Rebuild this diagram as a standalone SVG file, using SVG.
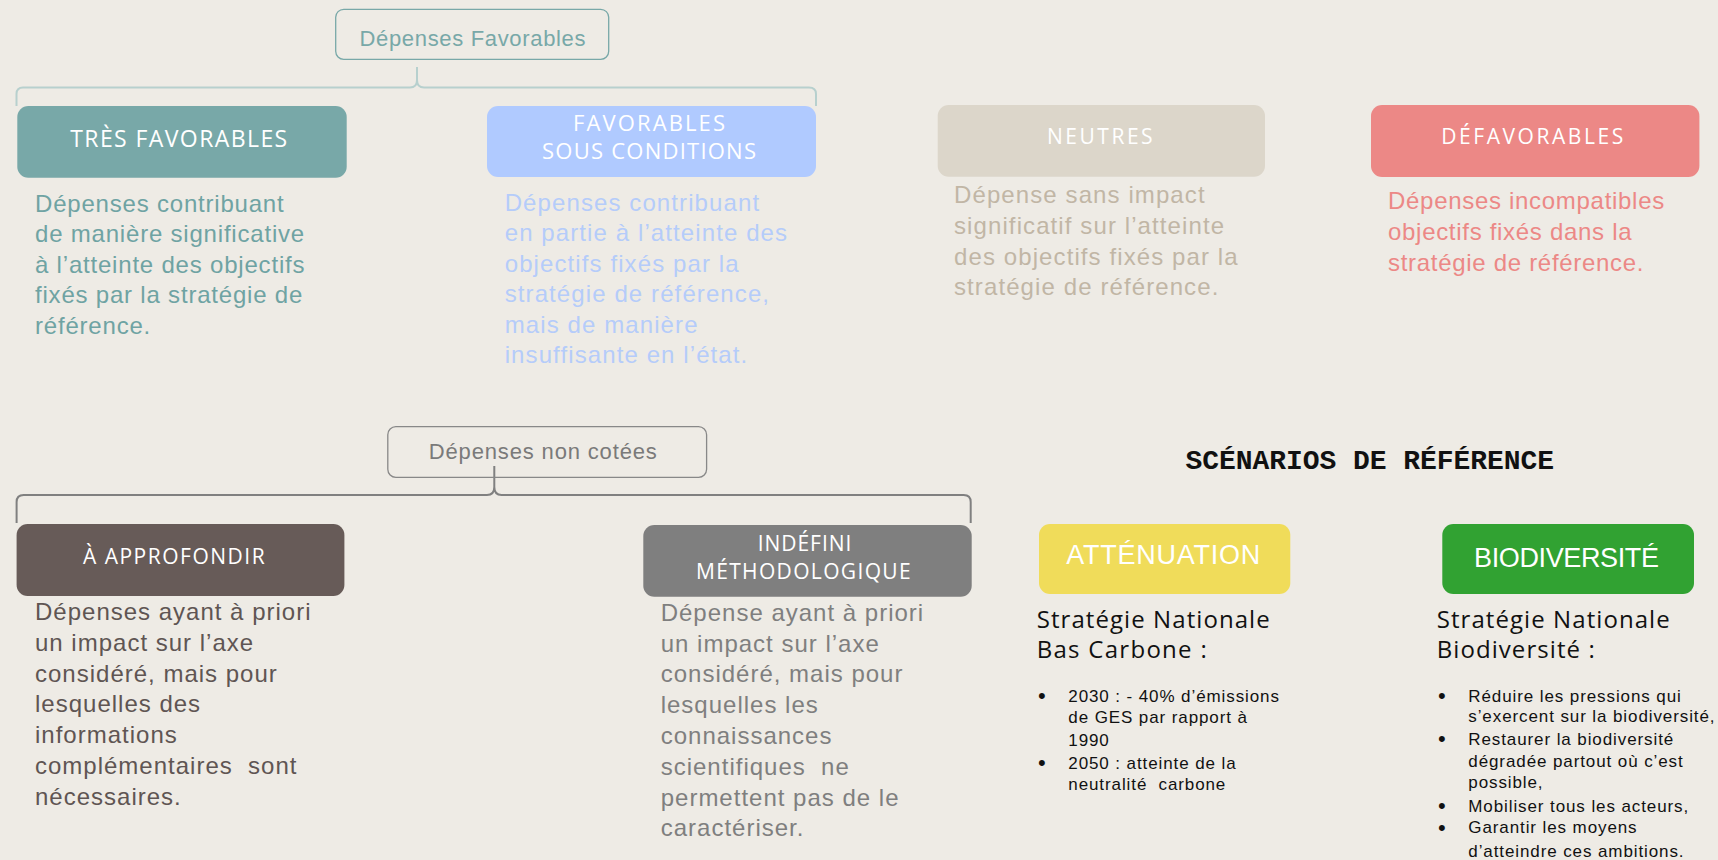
<svg xmlns="http://www.w3.org/2000/svg" width="1718" height="860" viewBox="0 0 1718 860">
<style>
.lbl{font-family:"Open Sans","Liberation Sans",sans-serif;fill:#ffffff;text-anchor:middle}
.desc{font-family:"Liberation Sans",Arial,sans-serif;font-size:24px}
.hdr{font-family:"Liberation Sans",Arial,sans-serif;font-size:22px;text-anchor:middle}
.scn{font-family:"Liberation Sans",Arial,sans-serif;font-size:27px;fill:#ffffff;text-anchor:middle}
.sn{font-family:"Open Sans","Liberation Sans",sans-serif;font-size:24px;fill:#111111}
.bl{font-family:"Liberation Sans",Arial,sans-serif;font-size:17px;fill:#111111;letter-spacing:0.9px}
.dot{font-size:22px;letter-spacing:0}
.pre{white-space:pre}
.brace{fill:none;stroke-width:2}
</style>
<rect width="1718" height="860" fill="#eeebe5"/>

<g id="connectors">
  <path class="brace" stroke="#b7d0ce" d="M16.5,106 L16.5,94 Q16.5,87.5 23,87.5 L410,87.5 Q417,87.5 417,80 L417,67 M417,80 Q417,87.5 424,87.5 L809,87.5 Q816,87.5 816,94 L816,106"/>
  <path class="brace" stroke="#808080" d="M16.6,523 L16.6,502 Q16.6,495 23.6,495 L487,495 Q494.3,495 494.3,487 L494.3,466 M494.3,487 Q494.3,495 501.6,495 L963.7,495 Q970.7,495 970.7,502 L970.7,523"/>
</g>

<g id="depenses-favorables">
  <rect x="335.7" y="9.3" width="273" height="50" rx="8" fill="none" stroke="#78a8a8" stroke-width="1.3"/>
  <text class="hdr" x="472.5" y="45.5" fill="#78a8a8" textLength="226" lengthAdjust="spacing">Dépenses Favorables</text>
</g>

<g id="tres-favorables">
  <rect x="17.3" y="106" width="329.4" height="71.7" rx="11" fill="#78a8a8"/>
  <text class="lbl" x="178.7" y="146.7" font-size="23" textLength="217" lengthAdjust="spacing">TRÈS FAVORABLES</text>
  <text class="desc" fill="#6fa3a3" letter-spacing="0.8">
    <tspan x="35" y="211.7">Dépenses contribuant</tspan>
    <tspan x="35" y="242.2">de manière significative</tspan>
    <tspan x="35" y="272.8">à l’atteinte des objectifs</tspan>
    <tspan x="35" y="303.3">fixés par la stratégie de</tspan>
    <tspan x="35" y="333.8">référence.</tspan>
  </text>
</g>

<g id="favorables-sous-conditions">
  <rect x="487" y="106" width="329" height="71" rx="11" fill="#b0caff"/>
  <text class="lbl" x="649" y="130.7" font-size="22" textLength="152" lengthAdjust="spacing">FAVORABLES</text>
  <text class="lbl" x="649" y="159.3" font-size="22" textLength="214" lengthAdjust="spacing">SOUS CONDITIONS</text>
  <text class="desc" fill="#b5ccfa" letter-spacing="1.1">
    <tspan x="504.7" y="210.5">Dépenses contribuant</tspan>
    <tspan x="504.7" y="241">en partie à l’atteinte des</tspan>
    <tspan x="504.7" y="271.5">objectifs fixés par la</tspan>
    <tspan x="504.7" y="302">stratégie de référence,</tspan>
    <tspan x="504.7" y="332.5">mais de manière</tspan>
    <tspan x="504.7" y="363">insuffisante en l’état.</tspan>
  </text>
</g>

<g id="neutres">
  <rect x="937.7" y="105" width="327.3" height="71.7" rx="11" fill="#dcd6ca"/>
  <text class="lbl" x="1099.8" y="144.3" font-size="21" textLength="105.6" lengthAdjust="spacing">NEUTRES</text>
  <text class="desc" fill="#c1b6a5" letter-spacing="1.1">
    <tspan x="954" y="203.3">Dépense sans impact</tspan>
    <tspan x="954" y="234">significatif sur l’atteinte</tspan>
    <tspan x="954" y="264.5">des objectifs fixés par la</tspan>
    <tspan x="954" y="295">stratégie de référence.</tspan>
  </text>
</g>

<g id="defavorables">
  <rect x="1371" y="105" width="328.4" height="72" rx="11" fill="#ec8886"/>
  <text class="lbl" x="1532.2" y="144.3" font-size="21" textLength="182" lengthAdjust="spacing">DÉFAVORABLES</text>
  <text class="desc" fill="#ec8886" letter-spacing="0.7">
    <tspan x="1388" y="209.3">Dépenses incompatibles</tspan>
    <tspan x="1388" y="240">objectifs fixés dans la</tspan>
    <tspan x="1388" y="270.5">stratégie de référence.</tspan>
  </text>
</g>

<g id="depenses-non-cotees">
  <rect x="387.8" y="426.7" width="318.8" height="50.6" rx="8" fill="none" stroke="#888888" stroke-width="1.3"/>
  <text class="hdr" x="542.8" y="459.3" fill="#7a7a7a" textLength="228" lengthAdjust="spacing">Dépenses non cotées</text>
</g>

<g id="a-approfondir">
  <rect x="16.6" y="524" width="327.8" height="72" rx="11" fill="#675b58"/>
  <text class="lbl" x="173.8" y="564" font-size="21" textLength="181.7" lengthAdjust="spacing">À APPROFONDIR</text>
  <text class="desc" fill="#5f5553" letter-spacing="1">
    <tspan x="35" y="620">Dépenses ayant à priori</tspan>
    <tspan x="35" y="650.8">un impact sur l’axe</tspan>
    <tspan x="35" y="681.6">considéré, mais pour</tspan>
    <tspan x="35" y="712.4">lesquelles des</tspan>
    <tspan x="35" y="743.2">informations</tspan>
    <tspan class="pre" x="35" y="774">complémentaires  sont</tspan>
    <tspan x="35" y="804.8">nécessaires.</tspan>
  </text>
</g>

<g id="indefini-methodologique">
  <rect x="643.3" y="525" width="328.4" height="71.7" rx="11" fill="#7f7f7f"/>
  <text class="lbl" x="804.5" y="550.7" font-size="21" textLength="93.7" lengthAdjust="spacing">INDÉFINI</text>
  <text class="lbl" x="803.3" y="579.3" font-size="21" textLength="214.7" lengthAdjust="spacing">MÉTHODOLOGIQUE</text>
  <text class="desc" fill="#7f7f7f" letter-spacing="1">
    <tspan x="660.7" y="620.7">Dépense ayant à priori</tspan>
    <tspan x="660.7" y="651.5">un impact sur l’axe</tspan>
    <tspan x="660.7" y="682.3">considéré, mais pour</tspan>
    <tspan x="660.7" y="713.1">lesquelles les</tspan>
    <tspan x="660.7" y="743.9">connaissances</tspan>
    <tspan class="pre" x="660.7" y="774.7">scientifiques  ne</tspan>
    <tspan x="660.7" y="805.5">permettent pas de le</tspan>
    <tspan x="660.7" y="836.3">caractériser.</tspan>
  </text>
</g>

<g id="scenarios-title">
  <text x="1369.7" y="469.3" font-family="'Liberation Mono','Courier New',monospace" font-size="28" font-weight="bold" fill="#111111" text-anchor="middle" textLength="368.6" lengthAdjust="spacing">SCÉNARIOS DE RÉFÉRENCE</text>
</g>

<g id="attenuation">
  <rect x="1039" y="524" width="251.3" height="70" rx="11" fill="#f0dc5a"/>
  <text class="scn" x="1163.3" y="564" textLength="194" lengthAdjust="spacing">ATTÉNUATION</text>
  <text class="sn" x="1036.7" y="628.3" textLength="233" lengthAdjust="spacing">Stratégie Nationale</text>
  <text class="sn" x="1036.7" y="658.3" textLength="170" lengthAdjust="spacing">Bas Carbone :</text>
  <text class="bl">
    <tspan class="dot" x="1038" y="703">•</tspan>
    <tspan x="1068.3" y="701.7">2030 : - 40% d’émissions</tspan>
    <tspan x="1068.3" y="723.3">de GES par rapport à</tspan>
    <tspan x="1068.3" y="746">1990</tspan>
    <tspan class="dot" x="1038" y="770.3">•</tspan>
    <tspan x="1068.3" y="769">2050 : atteinte de la</tspan>
    <tspan class="pre" x="1068.3" y="790">neutralité  carbone</tspan>
  </text>
</g>

<g id="biodiversite">
  <rect x="1442.3" y="524" width="251.7" height="70" rx="11" fill="#31a232"/>
  <text class="scn" x="1566.5" y="566.7" textLength="185" lengthAdjust="spacing">BIODIVERSITÉ</text>
  <text class="sn" x="1436.7" y="628.3" textLength="233" lengthAdjust="spacing">Stratégie Nationale</text>
  <text class="sn" x="1436.7" y="658.3" textLength="158" lengthAdjust="spacing">Biodiversité :</text>
  <text class="bl">
    <tspan class="dot" x="1438" y="703">•</tspan>
    <tspan x="1468.3" y="701.7">Réduire les pressions qui</tspan>
    <tspan x="1468.3" y="721.7">s’exercent sur la biodiversité,</tspan>
    <tspan class="dot" x="1438" y="746.3">•</tspan>
    <tspan x="1468.3" y="745">Restaurer la biodiversité</tspan>
    <tspan x="1468.3" y="766.7">dégradée partout où c’est</tspan>
    <tspan x="1468.3" y="788.3">possible,</tspan>
    <tspan class="dot" x="1438" y="813">•</tspan>
    <tspan x="1468.3" y="811.7">Mobiliser tous les acteurs,</tspan>
    <tspan class="dot" x="1438" y="834.6">•</tspan>
    <tspan x="1468.3" y="833.3">Garantir les moyens</tspan>
    <tspan x="1468.3" y="856.7">d’atteindre ces ambitions.</tspan>
  </text>
</g>
</svg>
